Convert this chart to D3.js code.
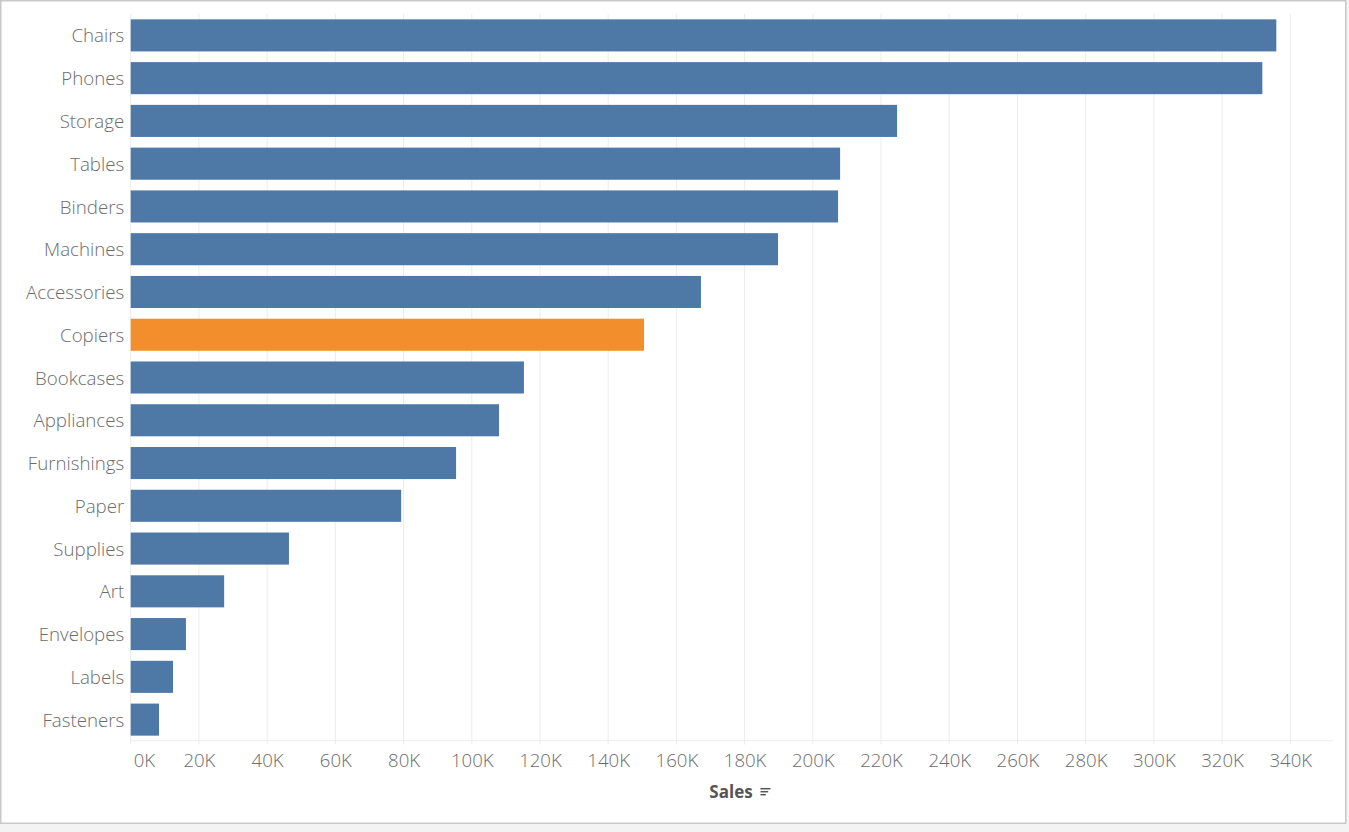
<!DOCTYPE html>
<html><head><meta charset="utf-8">
<script src="https://cdn.jsdelivr.net/npm/d3@7"></script>
<style>
html,body{margin:0;padding:0;background:#f3f3f3;}
svg{display:block;}
</style></head><body>
<script>
const categories = ["Chairs","Phones","Storage","Tables","Binders","Machines","Accessories","Copiers","Bookcases","Appliances","Furnishings","Paper","Supplies","Art","Envelopes","Labels","Fasteners"];
const sales = [335900,331800,224700,208000,207400,189800,167200,150500,115300,108000,95400,79300,46400,27400,16200,12400,8300];
const highlighted = ["Copiers"];
const tickValues = [0,20000,40000,60000,80000,100000,120000,140000,160000,180000,200000,220000,240000,260000,280000,300000,320000,340000];
const axisTitle = "Sales";

const W = 1349, H = 832;
const svg = d3.select("body").append("svg").attr("width", W).attr("height", H);

// frame
svg.append("rect").attr("x",0).attr("y",0).attr("width",W).attr("height",H).attr("fill","#f3f3f3");
svg.append("rect").attr("x",0.75).attr("y",0.75).attr("width",1345).attr("height",822.5)
  .attr("fill","#fff").attr("stroke","#c8c8c8").attr("stroke-width",1.5);

const x = d3.scaleLinear().domain([0,340000]).range([130.7,1290.3]);
const y = d3.scaleBand().domain(categories).range([14,741]).paddingInner(0.25).paddingOuter(0.125);

const font = "'Open Sans', sans-serif";
const textColor = "#6c6c6c";

// grid
svg.append("g").selectAll("line").data(tickValues).join("line")
  .attr("x1",d=>x(d)).attr("x2",d=>x(d)).attr("y1",14).attr("y2",744.5)
  .attr("stroke","#ececec").attr("stroke-width",1);

// bars
svg.append("g").selectAll("rect").data(categories).join("rect")
  .attr("x",x(0)).attr("y",c=>y(c))
  .attr("width",(c,i)=>x(sales[i])-x(0)).attr("height",y.bandwidth())
  .attr("fill",c=>highlighted.includes(c)?"#f28e2b":"#4e79a7");

// axis line
svg.append("line").attr("x1",130.7).attr("x2",1333).attr("y1",740.7).attr("y2",740.7)
  .attr("stroke","#ececec").attr("stroke-width",1);

// x axis
const xAxis = d3.axisBottom(x).tickValues(tickValues).tickFormat(d=>(d/1000)+"K").tickSize(0).tickPadding(13);
const gx = svg.append("g").attr("transform","translate(0,741)").call(xAxis);
gx.select(".domain").remove();
gx.selectAll("text").attr("fill",textColor).style("font-family",font).style("font-weight","300").style("font-size","18.6px");
// first label kept inside the plot edge
gx.selectAll("text").filter(d=>d===0).attr("text-anchor","start").attr("x",2.5);

// y axis labels
const yAxis = d3.axisLeft(y).tickSize(0).tickPadding(6.5);
const gy = svg.append("g").attr("transform","translate(130.7,0)").call(yAxis);
gy.select(".domain").remove();
gy.selectAll("text").attr("fill",textColor).attr("dy","0.38em").style("font-family",font).style("font-weight","300").style("font-size","18.7px");

// axis title
svg.append("text").attr("x",731).attr("y",797.5).attr("text-anchor","middle")
  .attr("fill","#555").style("font-family",font).style("font-size","17px").style("font-weight","bold")
  .text(axisTitle);
// sort icon
const icon = svg.append("g").attr("transform","translate(760.5,788.7)").attr("stroke","#555").attr("stroke-width",1.5);
[10,7.7,5.3].forEach((len,i)=>icon.append("line").attr("x1",0).attr("x2",len).attr("y1",i*3).attr("y2",i*3));
</script>
</body></html>
